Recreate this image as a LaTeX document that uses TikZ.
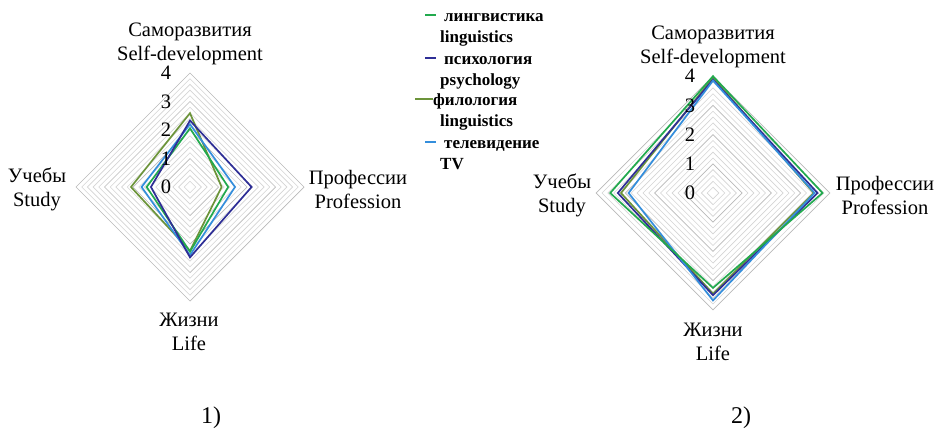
\documentclass[tikz,border=0pt]{standalone}
\usepackage{fontspec}
\setmainfont{Liberation Serif}
\definecolor{cgreen}{RGB}{34,170,78}
\definecolor{cdblue}{RGB}{46,46,150}
\definecolor{colive}{RGB}{108,148,58}
\definecolor{clblue}{RGB}{52,142,220}
\definecolor{gridmaj}{RGB}{185,185,185}
\definecolor{gridmin}{RGB}{212,212,212}
\tikzset{
  lbl/.style={font=\fontsize{20.5}{24}\selectfont, align=center, inner sep=0pt},
  num/.style={font=\fontsize{20.5}{24}\selectfont, inner sep=0pt},
  capt/.style={font=\fontsize{24}{28}\selectfont, inner sep=0pt},
  leg/.style={font=\fontsize{17}{20}\selectfont\bfseries, inner sep=0pt, anchor=base west},
  series/.style={line width=1.7pt, line join=miter},
}
\newcommand\myring[1]{(0,#1) -- (#1,0) -- (0,-#1) -- (-#1,0) -- cycle}
\newcommand\myradar{%
  \foreach \k in {1,...,20}{%
    \pgfmathsetmacro\rr{\k/5}%
    \pgfmathparse{mod(\k,5)==0?1:0}%
    \ifnum\pgfmathresult=1
      \draw[gridmaj, line width=0.7pt] \myring{\rr};
    \else
      \draw[gridmin, line width=0.6pt] \myring{\rr};
    \fi
  }%
}
\begin{document}
\begin{tikzpicture}[x=1pt,y=-1pt]
\useasboundingbox[fill=white] (0,0) rectangle (936,431);

% ---------- chart 1 ----------
\begin{scope}[shift={(190,187)}, x=28.5pt, y=28.5pt]
  \myradar
  \draw[series, colive] (0,2.59) -- (1.11,0) -- (0,-2.24) -- (-2.07,0) -- cycle;
  \draw[series, clblue] (0,2.20) -- (1.58,0) -- (0,-2.39) -- (-1.70,0) -- cycle;
  \draw[series, cgreen] (0,2.06) -- (1.34,0) -- (0,-2.27) -- (-1.52,0) -- cycle;
  \draw[series, cdblue] (0,2.33) -- (2.16,0) -- (0,-2.47) -- (-1.37,0) -- cycle;
  \foreach \v in {0,...,4}{ \node[num] (a\v) at (-0.84,\v) {\v}; }
\end{scope}
\node[lbl] (a-top) at (190,44) {Саморазвития\\Self-development};
\node[lbl] (a-left) at (37,189) {Учебы\\Study};
\node[lbl] (a-right) at (358,189) {Профессии\\Profession};
\node[lbl] (a-bot) at (189,332) {Жизни\\Life};
\node[capt] (a-cap) at (211,418) {1)};

% ---------- chart 2 ----------
\begin{scope}[shift={(713,193)}, x=29.2pt, y=29.2pt]
  \myradar
  \draw[series, colive] (0,3.95) -- (3.45,0) -- (0,-3.45) -- (-3.15,0) -- cycle;
  \draw[series, cdblue] (0,3.88) -- (3.58,0) -- (0,-3.50) -- (-3.26,0) -- cycle;
  \draw[series, clblue] (0,3.85) -- (3.48,0) -- (0,-3.68) -- (-2.89,0) -- cycle;
  \draw[series, cgreen] (0,4.00) -- (3.75,0) -- (0,-3.25) -- (-3.52,0) -- cycle;
  \foreach \v in {0,...,4}{ \node[num] (b\v) at (-0.79,\v) {\v}; }
\end{scope}
\node[lbl] (b-top) at (713,47) {Саморазвития\\Self-development};
\node[lbl] (b-left) at (562,195) {Учебы\\Study};
\node[lbl] (b-right) at (885,195) {Профессии\\Profession};
\node[lbl] (b-bot) at (713,342) {Жизни\\Life};
\node[capt] (b-cap) at (741,418) {2)};

% ---------- legend ----------
\coordinate (l1a) at (425,15); \coordinate (l1b) at (436,15);
\coordinate (l2a) at (425,58); \coordinate (l2b) at (436,58);
\coordinate (l3a) at (415,99); \coordinate (l3b) at (433,99);
\coordinate (l4a) at (425,142); \coordinate (l4b) at (436,142);
\draw[cgreen, line width=1.5pt] (l1a) -- (l1b);
\draw[cdblue, line width=1.5pt] (l2a) -- (l2b);
\draw[colive, line width=1.5pt] (l3a) -- (l3b);
\draw[clblue, line width=1.5pt] (l4a) -- (l4b);
\node[leg] (t1) at (444,21) {лингвистика};
\node[leg] (t1b) at (440,42) {linguistics};
\node[leg] (t2) at (444,64) {психология};
\node[leg] (t2b) at (440,85) {psychology};
\node[leg] (t3) at (433,105) {филология};
\node[leg] (t3b) at (440,126) {linguistics};
\node[leg] (t4) at (444,148) {телевидение};
\node[leg] (t4b) at (440,169) {TV};
\end{tikzpicture}
\end{document}
